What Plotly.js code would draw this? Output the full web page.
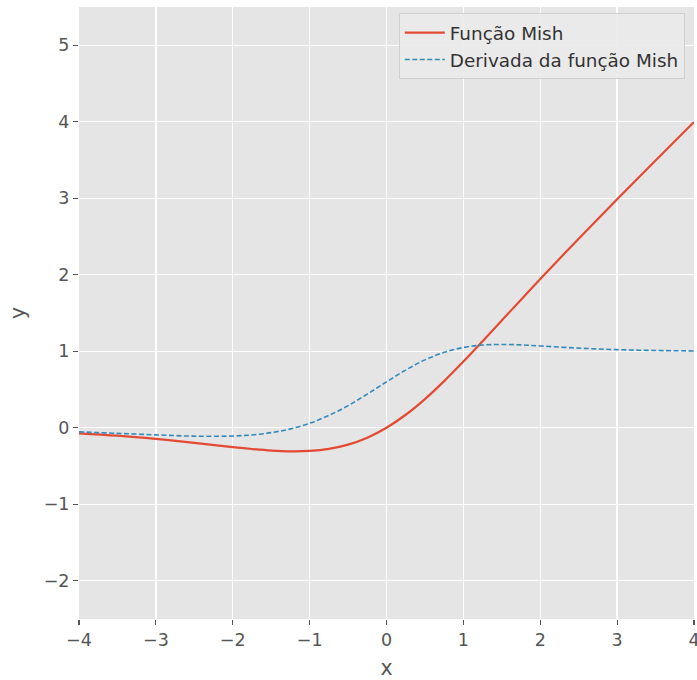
<!DOCTYPE html>
<html>
<head>
<meta charset="utf-8">
<script src="https://cdn.plot.ly/plotly-3.0.1.min.js"></script>
<style>html,body{margin:0;padding:0;background:#fff;}#chart{width:697px;height:680px;}</style>
</head>
<body>
<div id="chart"></div>
<script>
const xValues = [-4,-3.5,-3,-2.5,-2,-1.75,-1.5,-1.25,-1,-0.75,-0.5,-0.25,0,0.25,0.5,0.75,1,1.25,1.5,1.75,2,2.5,3,3.5,4];
const mishValues = [-0.073,-0.104,-0.146,-0.197,-0.253,-0.278,-0.298,-0.308,-0.303,-0.277,-0.221,-0.130,0,0.170,0.375,0.610,0.865,1.132,1.403,1.674,1.944,2.471,2.987,3.494,3.997];
const derivValues = [-0.054,-0.073,-0.093,-0.110,-0.108,-0.094,-0.064,-0.015,0.059,0.161,0.289,0.440,0.600,0.754,0.887,0.986,1.049,1.081,1.089,1.083,1.069,1.041,1.021,1.010,1.004];
const seriesNames = ["Função Mish", "Derivada da função Mish"];
const tickVals = [-4,-3,-2,-1,0,1,2,3,4];
const yTickVals = [-2,-1,0,1,2,3,4,5];

const traces = [
  {x: xValues, y: mishValues, name: seriesNames[0], mode: 'lines',
   line: {color: '#E24A33', width: 2.2, shape: 'spline', smoothing: 1}},
  {x: xValues, y: derivValues, name: seriesNames[1], mode: 'lines',
   line: {color: '#348ABD', width: 1.6, dash: '5px,2.5px', shape: 'spline', smoothing: 1}}
];

const axisCommon = {
  showgrid: true, gridcolor: '#FFFFFF', gridwidth: 1.3,
  zeroline: false, showline: false,
  ticks: 'outside', ticklen: 5, tickwidth: 1.1, tickcolor: '#555555',
  tickfont: {family: 'DejaVu Sans', size: 17.5, color: '#555555'},
  ticklabeloverflow: 'allow'
};

const layout = {
  width: 697, height: 680,
  paper_bgcolor: '#FFFFFF', plot_bgcolor: '#E5E5E5',
  margin: {l: 79, r: 3, t: 7, b: 61},
  font: {family: 'DejaVu Sans', color: '#555555'},
  xaxis: Object.assign({}, axisCommon, {
    range: [-4, 4], tickvals: tickVals,
    title: {text: 'x', font: {family: 'DejaVu Sans', size: 20.5, color: '#555555'}, standoff: 11}
  }),
  yaxis: Object.assign({}, axisCommon, {
    range: [-2.5, 5.5], tickvals: yTickVals,
    title: {text: 'y', font: {family: 'DejaVu Sans', size: 20.5, color: '#555555'}, standoff: 12}
  }),
  showlegend: true,
  legend: {
    x: 0.985, y: 0.99, xanchor: 'right', yanchor: 'top',
    bgcolor: 'rgba(234,234,234,0.9)', bordercolor: '#D0D0D0', borderwidth: 1,
    font: {family: 'DejaVu Sans', size: 18.4, color: '#333333'},
    tracegroupgap: 0, itemwidth: 40
  }
};

Plotly.newPlot('chart', traces, layout, {displayModeBar: false, staticPlot: true});
</script>
</body>
</html>
